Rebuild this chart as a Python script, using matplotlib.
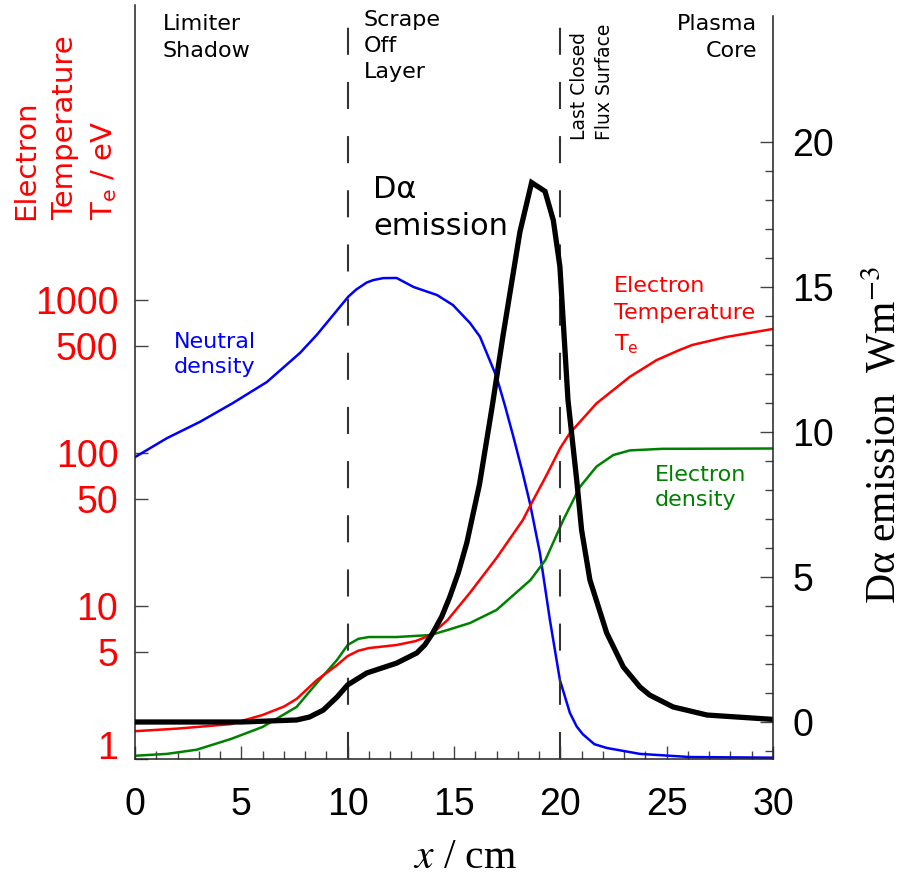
import numpy as np
import matplotlib.pyplot as plt
from matplotlib.ticker import FixedLocator, NullLocator

plt.rcParams['font.family'] = 'Liberation Sans'
plt.rcParams['lines.scale_dashes'] = False

#----------------------------------------------------
# data
#----------------------------------------------------
te_x = [0, 2, 4.5, 6, 7, 7.6, 8.55, 9.5, 10, 10.5, 11, 12.3, 13.2, 13.9, 14.7,
        15.75, 17, 18.24, 18.6, 19.36, 20, 20.45, 21.7, 22.49, 23.27, 24.53, 25.6, 26.2,
        27.8, 30]
te_val = [1.52, 1.58, 1.69, 1.94, 2.2, 2.47, 3.28, 4.11, 4.71, 5.1, 5.31, 5.56, 5.9, 6.46, 8.1,
          12.2, 20.6, 36.5, 45.7, 72, 108, 135, 211, 258, 315, 405, 471, 508,
          573, 647]

ne_x = [0, 1.5, 2.9, 4.5, 6, 7.6, 8.55, 9.5, 10, 10.5, 11, 12.3, 13.9, 14.7, 15.75,
        17, 18.6, 19.3, 20.14, 20.92, 21.7, 22.49, 23.27, 24.8, 30]
ne_val = [1.05, 1.08, 1.15, 1.35, 1.62, 2.19, 3.14, 4.44, 5.56, 6.1, 6.27, 6.27, 6.46, 6.97, 7.74,
          9.42, 14.8, 20, 36.5, 60, 81.5, 97, 104, 106.5, 107]

n0_x = [0, 1.5, 3.06, 4.6, 6.2, 7.76, 8.54, 9.32, 10.03, 10.4, 10.89, 11.2, 11.67, 12.3,
        13.1, 14.2, 14.95, 15.75, 16.22, 17.0, 17.4, 17.79, 18.2, 18.57, 19.04, 19.51,
        19.98, 20.45, 20.77, 21.06, 21.6, 22.19, 23.74, 26.1, 30]
n0_val = [94, 125, 160, 212, 291, 451, 590, 798, 1052, 1170, 1300, 1349, 1390, 1393,
          1216, 1078, 927, 708, 576, 315, 203, 128, 77, 47, 22.2, 8.1,
          3.28, 2.0, 1.63, 1.45, 1.25, 1.18, 1.08, 1.03, 1.02]

da_x = [0, 5, 7.6, 8.2, 8.85, 9.5, 10, 10.9, 12.3, 13.25, 13.63, 14.0, 14.42, 14.8, 15.2,
        15.6, 16.2, 16.8, 17.3, 18.1, 18.65, 19.28, 19.67, 19.98, 20.36, 20.77, 21.0,
        21.39, 22.18, 22.96, 23.74, 24.2, 25.3, 26.9, 30]
da_val = [0, 0, 0.07, 0.17, 0.41, 0.86, 1.28, 1.69, 2.03, 2.38, 2.66, 3.07, 3.63, 4.31, 5.14,
          6.17, 8.2, 10.9, 13.3, 16.9, 18.6, 18.3, 17.3, 15.7, 11.1, 8.34, 6.62,
          4.9, 3.07, 1.9, 1.21, 0.93, 0.52, 0.24, 0.09]

x_ticks = [0, 5, 10, 15, 20, 25, 30]
te_ticks = [1, 5, 10, 50, 100, 500, 1000]
da_ticks = [0, 5, 10, 15, 20]
boundaries = [10, 20]

W, H = 903, 881


def px(x, y):
    return x / W, 1 - y / H


#----------------------------------------------------
# axes
#----------------------------------------------------
fig = plt.figure(figsize=(W / 100, H / 100), dpi=100)
ax = fig.add_axes([135 / W, 122 / H, 638 / W, 754 / H])
ax.set_xlim(0, 30)
ax.set_yscale('log')
ax.set_ylim(1, 10 ** (754 / 153))

ax2 = ax.twinx()
ax2.set_ylim((722 - 759) / 29, (722 - 5) / 29)

for s in ['top', 'right']:
    ax.spines[s].set_visible(False)
for s in ['top', 'left', 'bottom']:
    ax2.spines[s].set_visible(False)
ax2.spines['right'].set_bounds((722 - 759) / 29, (722 - 16) / 29)
for sp in [ax.spines['left'], ax.spines['bottom'], ax2.spines['right']]:
    sp.set_linewidth(1.1)
    sp.set_color('#222222')

ax.set_xticks(x_ticks, [str(t) for t in x_ticks])
ax.xaxis.set_minor_locator(FixedLocator(range(0, 31)))
ax.tick_params(axis='x', which='major', direction='in', length=9.5, width=1,
               color='#444444', pad=20, labelsize=27)
ax.tick_params(axis='x', which='minor', direction='in', length=5.8, width=1,
               color='#444444')

ax.set_yticks(te_ticks, [str(t) for t in te_ticks])
ax.yaxis.set_minor_locator(NullLocator())
ax.tick_params(axis='y', direction='in', length=9.5, width=1, color='#444444',
               pad=12, labelsize=27, labelcolor='red')
ax.yaxis.get_major_ticks()[0].label1.set_va('baseline')

ax2.set_yticks(da_ticks, [str(t) for t in da_ticks])
ax2.yaxis.set_minor_locator(FixedLocator(range(-1, 20)))
ax2.tick_params(axis='y', which='major', direction='in', length=9.5, width=1,
                color='#444444', pad=14, labelsize=27)
ax2.tick_params(axis='y', which='minor', direction='in', length=5.8, width=1,
                color='#444444')

#----------------------------------------------------
# curves
#----------------------------------------------------
ax.plot(n0_x, n0_val, color='blue', lw=1.8)
ax.plot(ne_x, ne_val, color='green', lw=1.8)
ax.plot(te_x, te_val, color='red', lw=1.8)
for b in boundaries:
    ax.axvline(b, ymin=0, ymax=(759 - 25) / 754, color='0.2', lw=1.5,
               dashes=(19.5, 19.5), zorder=5)
ax2.plot(da_x, da_val, color='black', lw=3.8, solid_joinstyle='miter')

#----------------------------------------------------
# labels and annotations (va='baseline' -> last line's baseline)
#----------------------------------------------------
dv = 'DejaVu Sans'
fig.text(*px(163, 57), 'Limiter\nShadow', family=dv, fontsize=16, va='baseline',
         linespacing=1.45)
fig.text(*px(364, 78), 'Scrape\nOff\nLayer', family=dv, fontsize=16, va='baseline',
         linespacing=1.38)
fig.text(*px(757, 57), 'Plasma\nCore', family=dv, fontsize=16, va='baseline',
         ha='right', multialignment='right', linespacing=1.45)
fig.text(*px(592, 140), 'Last Closed\nFlux Surface', family=dv, fontsize=13.5,
         rotation=90, ha='center', va='bottom', multialignment='left', linespacing=1.45)
fig.text(*px(373, 235), 'D\u03b1\nemission', family=dv, fontsize=22, va='baseline',
         linespacing=1.33)
fig.text(*px(174, 373), 'Neutral\ndensity', family=dv, fontsize=16, va='baseline',
         color='blue', linespacing=1.3)
fig.text(*px(614, 350), 'Electron\nTemperature\nT$_\\mathregular{e}$', family=dv,
         fontsize=16, va='baseline', color='red', linespacing=1.48)
fig.text(*px(655, 506), 'Electron\ndensity', family=dv, fontsize=16, va='baseline',
         color='green', linespacing=1.3)

fig.text(*px(66, 220), 'Electron\nTemperature\nT$_\\mathregular{e}$ / eV', family=dv,
         fontsize=21, color='red', rotation=90, ha='center', va='bottom',
         multialignment='left', linespacing=1.47)
fig.text(*px(885, 435), 'D\u03b1 emission  Wm$^{-3}$', family='Liberation Serif',
         math_fontfamily='stix', fontsize=30, rotation=90, ha='center', va='center')
fig.text(*px(465, 868), '$x$ / cm', family='Liberation Serif', math_fontfamily='stix',
         fontsize=30, ha='center', va='baseline')

fig.savefig('out.png', dpi=100)
